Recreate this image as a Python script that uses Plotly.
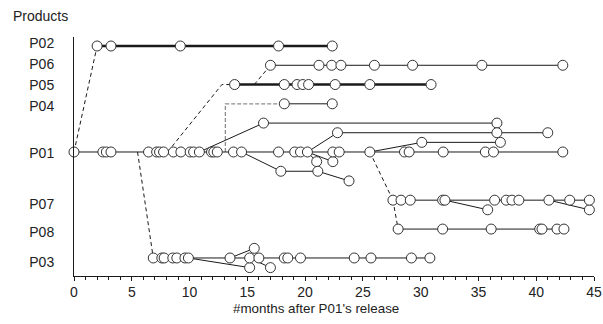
import plotly.graph_objects as go

# ---------------- data ----------------
products = ["P02", "P06", "P05", "P04", "P01", "P07", "P08", "P03"]
row_lane = [0, 2, 4, 6, 11, 16, 19, 22]
label_lane = [-0.25, 1.85, 4.05, 6.25, 11.1, 16.4, 19.3, 22.4]

p02_months = [2.0, 3.2, 9.2, 17.7, 22.35]
p06_months = [17.0, 21.2, 22.3, 23.1, 26.0, 29.3, 35.3, 42.3]
p05_months = [13.9, 18.2, 19.3, 19.8, 20.3, 22.6, 25.6, 30.9]
p04_months = [18.2, 22.35]
p01_months = [0.0, 2.5, 2.8, 3.2, 6.45, 7.15, 7.4, 7.75, 8.6, 9.25, 10.05, 10.35,
              10.85, 11.9, 12.1, 12.4, 13.8, 14.5, 17.7, 19.1, 19.6, 20.2, 22.4,
              22.95, 25.6, 28.6, 29.0, 31.95, 35.6, 36.3, 42.3]
p07_months = [27.6, 28.3, 29.1, 31.9, 32.1, 36.4, 37.4, 37.9, 38.5, 41.1, 42.9, 44.6]
p08_months = [28.05, 31.9, 36.1, 40.3, 40.5, 41.8, 42.4]
p03_months = [6.86, 7.6, 7.8, 8.55, 8.9, 9.6, 9.9, 13.5, 15.2, 16.0, 18.2, 18.5,
              19.6, 24.25, 25.7, 29.2, 30.8]

# branches: (product, months, lane offsets from the product row)
branch_product = ["P01", "P01", "P01", "P01", "P01", "P01", "P07", "P07", "P03", "P03", "P03"]
branch_months = [
    [10.85, 16.4, 36.6],
    [20.2, 22.8, 36.6, 41.0],
    [25.6, 30.1, 36.9],
    [20.2, 21.0],
    [20.2, 22.4],
    [14.5, 17.9, 21.1, 23.8],
    [32.1, 35.8],
    [41.1, 44.6],
    [13.5, 15.6],
    [9.9, 15.2],
    [15.2, 17.0],
]
branch_offsets = [
    [0, -3, -3],
    [0, -2, -2, -2],
    [0, -1, -1],
    [0, 1],
    [0, 1],
    [0, 2, 2, 3],
    [0, 1],
    [0, 1],
    [0, -1],
    [0, 1],
    [0, 1],
]

# derivation links (dashed): products along the path and months
link_products = [
    ["P01", "P02"],
    ["P01", "P05", "P05"],
    ["P05", "P06"],
    ["P01", "P04", "P04"],
    ["P01", "P03"],
    ["P01", "P07"],
    ["P07", "P08"],
]
link_months = [
    [0.0, 2.0],
    [8.1, 12.8, 13.9],
    [15.6, 17.0],
    [13.1, 13.1, 18.2],
    [5.5, 6.86],
    [25.6, 27.6],
    [27.6, 28.05],
]
link_gray = [False, False, False, True, False, False, False]

x_ticks = [0, 5, 10, 15, 20, 25, 30, 35, 40, 45]

# ---------------- build ----------------
lane = dict(zip(products, row_lane))
main_months = dict(zip(products, [p02_months, p06_months, p05_months, p04_months,
                                  p01_months, p07_months, p08_months, p03_months]))
thick = {"P02", "P05"}

LINE = "#1a1a1a"
fig = go.Figure()

# dashed links
for prods, ms, gray in zip(link_products, link_months, link_gray):
    fig.add_trace(go.Scatter(
        x=ms, y=[lane[p] for p in prods], mode="lines", hoverinfo="skip",
        line=dict(color="#8c8c8c" if gray else LINE, width=1.3 if gray else 1,
                  dash="4px,2px" if gray else "4px,3px")))

# branch lines
for p, ms, offs in zip(branch_product, branch_months, branch_offsets):
    fig.add_trace(go.Scatter(
        x=ms, y=[lane[p] + o for o in offs], mode="lines", hoverinfo="skip",
        line=dict(color=LINE, width=1)))

# main lines
for p in products:
    ms = main_months[p]
    fig.add_trace(go.Scatter(
        x=ms, y=[lane[p]] * len(ms), mode="lines", hoverinfo="skip",
        line=dict(color=LINE, width=2.5 if p in thick else 1)))

# markers
mk = dict(size=10, color="white", line=dict(color="#333333", width=1))
for p, ms, offs in zip(branch_product, branch_months, branch_offsets):
    xs = [m for m, o in zip(ms, offs) if o != 0]
    ys = [lane[p] + o for o in offs if o != 0]
    fig.add_trace(go.Scatter(x=xs, y=ys, mode="markers", marker=mk, cliponaxis=False))
for p in products:
    ms = main_months[p]
    fig.add_trace(go.Scatter(x=ms, y=[lane[p]] * len(ms), mode="markers",
                             marker=mk, cliponaxis=False))

FONT = "Liberation Sans, Arial, sans-serif"
fig.update_layout(
    width=603, height=324,
    margin=dict(l=74, r=9, t=37, b=48, autoexpand=False),
    paper_bgcolor="white", plot_bgcolor="white",
    showlegend=False,
    font=dict(family=FONT, size=14, color="#222222"),
    xaxis=dict(range=[0, 45], tickvals=x_ticks, showgrid=False, zeroline=False,
               showline=True, linecolor="#1a1a1a", linewidth=1,
               ticks="outside", ticklen=4, tickcolor="#1a1a1a",
               minor=dict(dtick=1, ticks="outside", ticklen=3, tickcolor="#1a1a1a"),
               tickfont=dict(size=14), ticklabelstandoff=-1),
    yaxis=dict(range=[23.87, -0.934], tickvals=label_lane, ticktext=products,
               showgrid=False, zeroline=False, showline=True, linecolor="#1a1a1a",
               linewidth=1, ticks="", ticklabelstandoff=16, tickfont=dict(size=14)),
    annotations=[
        dict(text="#months after P01's release", x=0.465, y=-0.135, xref="paper",
             yref="paper", showarrow=False, xanchor="center", yanchor="middle",
             font=dict(size=13.4)),
        dict(text="Products", x=-0.065, y=1.088, xref="paper", yref="paper",
             showarrow=False, xanchor="center", yanchor="middle", font=dict(size=14)),
    ],
)

fig.write_html("out.html", config={"displayModeBar": False},
               post_script="document.body.style.margin='0';")
